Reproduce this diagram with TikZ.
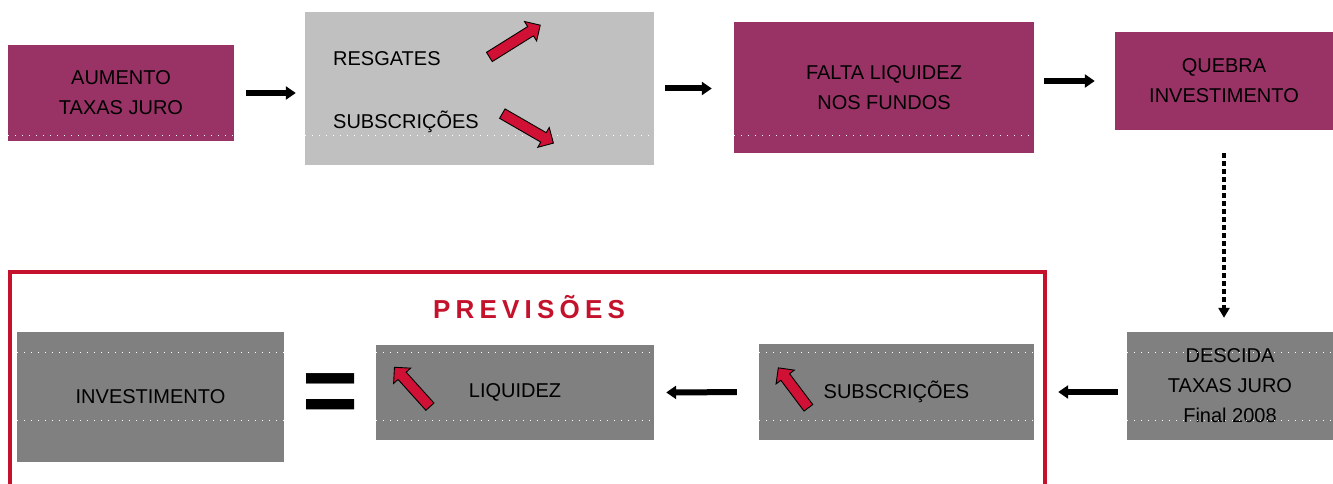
\documentclass[tikz,border=0pt]{standalone}
\usepackage{fontspec}
\setmainfont{Liberation Sans}
\usepackage{tikz}
\usetikzlibrary{arrows.meta,shapes.arrows}

\definecolor{ameixa}{RGB}{153,51,102}
\definecolor{cinzacl}{RGB}{192,192,192}
\definecolor{cinzaes}{RGB}{128,128,128}
\definecolor{vermelho}{RGB}{196,18,44}
\definecolor{seta}{RGB}{208,16,52}

\begin{document}
\begin{tikzpicture}
		[x=1pt,y=-1pt,
		 txt/.style={font=\fontsize{20}{30}\selectfont,align=center,text=black},
		 roxo/.style={rectangle,fill=ameixa,txt},
		 claro/.style={rectangle,fill=cinzacl,txt},
		 escuro/.style={rectangle,fill=cinzaes,txt},
		 flow/.style={-{Triangle[length=10pt,width=13pt]},line width=6pt},
		 tracejado/.style={-{Triangle[length=10pt,width=11pt]},line width=4pt,dash pattern=on 5pt off 3pt},
		 sobe/.style={single arrow,fill=seta,draw=black,line width=0.9pt,inner sep=5pt,single arrow head extend=6pt,minimum height=#1},
		 costura/.style={white,line width=1pt,dash pattern=on 1pt off 6pt},
		 moldura/.style={draw=vermelho,line width=4pt}]
		\useasboundingbox (0,0) rectangle (1333,484);
		% linha de cima
		\node[roxo,minimum width=226,minimum height=96] (aum) at (121,93) {AUMENTO\\TAXAS JURO};
		\node[claro,minimum width=349,minimum height=153] (resg) at (479.5,88.5) {};
		\node[txt,anchor=west,inner sep=0pt] (resgt) at (333,59) {RESGATES};
		\node[txt,anchor=west,inner sep=0pt] (subst) at (333,122) {SUBSCRIÇÕES};
		\node[roxo,minimum width=300,minimum height=131] (falta) at (884,87.5) {FALTA LIQUIDEZ\\NOS FUNDOS};
		\node[roxo,minimum width=218,minimum height=98] (quebra) at (1224,81) {QUEBRA\\INVESTIMENTO};
		% linha de baixo
		\draw[moldura] (10,495) -- (10,272) -- (1045,272) -- (1045,495);
		\node[font=\bfseries\fontsize{26}{26}\selectfont\addfontfeature{LetterSpace=20},text=vermelho] (prev) at (529,307) {PREVISÕES};
		\node[escuro,minimum width=206,minimum height=108] (desc) at (1230,386) {DESCIDA\\TAXAS JURO\\Final 2008};
		\node[escuro,minimum width=275,minimum height=96] (subs) at (896.5,392) {SUBSCRIÇÕES};
		\node[escuro,minimum width=278,minimum height=95] (liq) at (515,392.5) {LIQUIDEZ};
		\node[escuro,minimum width=267,minimum height=130] (inv) at (150.5,397) {INVESTIMENTO};
		\node[font=\bfseries\fontsize{96}{96}\selectfont] (igual) at (331,399) {=};
		% costuras
		\draw[costura] (8,136) -- (234,136) (305,136) -- (654,136) (734,136) -- (1034,136);
		\foreach \y in {352,420}
			\draw[costura] (17,\y) -- (284,\y) (376,\y) -- (654,\y) (759,\y) -- (1034,\y) (1127,\y) -- (1333,\y);
		% setas vermelhas
		\node[sobe=60,rotate=32] (s1) at (512.5,42.5) {};
		\node[sobe=59,rotate=-30] (s2) at (525.5,127) {};
		\node[sobe=53,rotate=132] (s3) at (414,389) {};
		\node[sobe=50,rotate=127] (s4) at (795,390) {};
		% ligacoes
		\path[flow]
		(aum.east) 	edge [shorten <=12pt,shorten >=9pt] (aum.east -| resg.west)
		(resg.east) edge [shorten <=11pt,shorten >=22pt] (resg.east -| falta.west)
		(quebra.west -| falta.east) edge [shorten <=10pt,shorten >=20pt] (quebra.west)
		(desc.west |- subs.west) edge [shorten <=9pt,shorten >=24pt] (subs.east)
		(subs.west) edge [shorten <=22pt,shorten >=12pt] (liq.east)
		;
		\draw[tracejado,shorten <=23pt,shorten >=14pt] (quebra.south) -- (quebra.south |- desc.north);
\end{tikzpicture}
\end{document}
